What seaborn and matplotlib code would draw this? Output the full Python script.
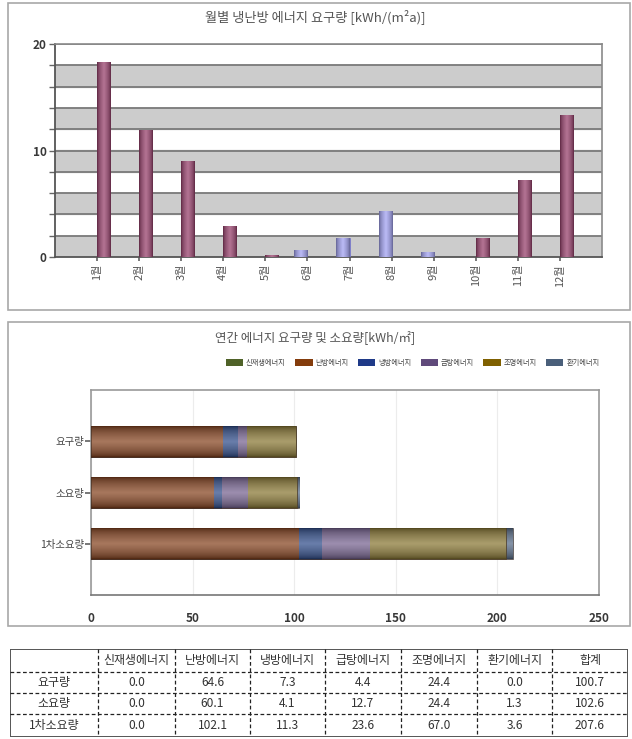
import numpy as np
import pandas as pd
import seaborn as sns
import matplotlib.pyplot as plt
from matplotlib.patches import Rectangle, Patch
from matplotlib.colors import to_rgb

# monthly heating / cooling demand [kWh/(m2a)]
months = ['1월', '2월', '3월', '4월', '5월', '6월', '7월', '8월', '9월', '10월', '11월', '12월']
heating = [18.3, 11.9, 9.0, 2.9, 0.15, 0.0, 0.0, 0.0, 0.0, 1.8, 7.2, 13.3]
cooling = [0.0, 0.0, 0.0, 0.0, 0.0, 0.65, 1.8, 4.35, 0.5, 0.0, 0.0, 0.0]

# annual demand / consumption table [kWh/m2]
rows = ['요구량', '소요량', '1차소요량']
energy_types = ['신재생에너지', '난방에너지', '냉방에너지', '급탕에너지', '조명에너지', '환기에너지']
renewable = [0.0, 0.0, 0.0]
heat_e = [64.6, 60.1, 102.1]
cool_e = [7.3, 4.1, 11.3]
hotwater = [4.4, 12.7, 23.6]
lighting = [24.4, 24.4, 67.0]
ventilation = [0.0, 1.3, 3.6]
totals = [100.7, 102.6, 207.6]

sns.set_theme(style='white')
plt.rcParams['font.family'] = ['Noto Sans CJK KR', 'DejaVu Sans']

W, H = 632, 739
fig = plt.figure(figsize=(W / 100, H / 100), dpi=100)


def box(x0, y0, x1, y1):
    # pixel box (top-left origin) -> figure coords
    return [x0 / W, 1 - y1 / H, (x1 - x0) / W, (y1 - y0) / H]


def shade(ax, patch, across_width, z):
    # glossy look: dark edges, lighter middle, clipped to the bar
    x, y = patch.get_x(), patch.get_y()
    w, h = patch.get_width(), patch.get_height()
    if abs(w) < 1e-9 or abs(h) < 1e-9:
        return
    base = np.array(to_rgb(patch.get_facecolor()[:3]))
    light = base + (1 - base) * 0.28
    dark = base * 0.6
    t = np.linspace(0, 1, 40)
    prof = (1 - np.abs(2 * t - 1)) ** 0.6
    cols = dark[None, :] + (light - dark)[None, :] * prof[:, None]
    img = cols[None, :, :] if across_width else cols[:, None, :]
    im = ax.imshow(img, extent=[x, x + w, y, y + h], aspect='auto',
                   interpolation='bilinear', zorder=z)
    im.set_clip_path(patch)


# panel frames
for y0, y1 in [(3, 310), (322, 626)]:
    fig.add_artist(Rectangle((8 / W, 1 - y1 / H), 622 / W, (y1 - y0) / H,
                             transform=fig.transFigure, fill=False,
                             edgecolor='#a8a8a8', lw=1.2))

# ---- top chart ----
ax1 = fig.add_axes(box(55, 44, 602, 257))
for lo in range(0, 20, 4):
    ax1.axhspan(lo, lo + 2, color='#cccccc', zorder=0)
for g in range(2, 21, 2):
    ax1.axhline(g, color='#7a7a7a', lw=1.3, zorder=1)

df1 = pd.DataFrame({
    'month': months * 2,
    'value': cooling + heating,
    'type': ['냉방'] * 12 + ['난방'] * 12,
})
sns.barplot(data=df1, x='month', y='value', hue='type', hue_order=['냉방', '난방'],
            palette=['#a0a0f2', '#973d6a'], width=0.62, dodge=True,
            legend=False, errorbar=None, ax=ax1, zorder=3, saturation=1,
            edgecolor='#5a2040', linewidth=0.5)
for c in ax1.containers:
    for p in c:
        if p.get_facecolor()[2] > 0.8:
            p.set_edgecolor('#6a6ac0')
        shade(ax1, p, True, 3.5)

ax1.set_ylim(0, 20)
ax1.set_xlim(-1.0, 12.0)
ax1.set_yticks([0, 10, 20])
ax1.set_yticks(range(0, 21, 2), minor=True)
ax1.tick_params(axis='y', which='both', left=True, length=4, width=1, color='#666666',
                labelsize=8.5, labelcolor='#383838', pad=2)
ax1.tick_params(axis='x', bottom=True, length=3, color='#666666', labelsize=8,
                labelcolor='#555555', pad=2)
plt.setp(ax1.get_xticklabels(), rotation=90)
plt.setp(ax1.get_yticklabels(), fontweight='semibold')
ax1.set_xlabel('')
ax1.set_ylabel('')
for s in ['left', 'bottom']:
    ax1.spines[s].set_color('#555555')
    ax1.spines[s].set_linewidth(1.3)
for s in ['right', 'top']:
    ax1.spines[s].set_color('#8a8a8a')
    ax1.spines[s].set_linewidth(1.2)

fig.text(315 / W, 1 - 17 / H, '월별 냉난방 에너지 요구량 [kWh/(m²a)]', ha='center',
         va='center', fontsize=9.5, color='#555555')

# ---- stacked annual chart ----
ax2 = fig.add_axes(box(91, 390, 599, 595))
bar_colors = ['#4f6228', '#86431f', '#2f4c8a', '#766290', '#897733', '#566a86']
legend_colors = ['#4f6228', '#843c0c', '#1f3a88', '#604a7b', '#7f6000', '#4a5f7a']
series = [renewable, heat_e, cool_e, hotwater, lighting, ventilation]
cum = np.cumsum(np.array(series), axis=0)
for i in range(len(series) - 1, -1, -1):
    sns.barplot(x=cum[i], y=rows, orient='h', color=bar_colors[i], width=0.6,
                errorbar=None, ax=ax2, zorder=3, edgecolor='#3a2a20',
                linewidth=0.4, saturation=1)
k = 0
for c in ax2.containers:
    for p in c:
        p.set_zorder(3 + 0.2 * k)
        shade(ax2, p, False, 3.1 + 0.2 * k)
        k += 1
ax2.set_xlim(0, 250)
ax2.set_ylim(3.0, -1.0)
ax2.set_xticks(range(0, 251, 50))
ax2.grid(axis='x', color='#ececec', lw=0.8, zorder=0)
ax2.tick_params(axis='y', left=True, length=4, color='#666666', labelsize=7.5,
                labelcolor='#444444', pad=1)
ax2.tick_params(axis='x', bottom=False, labelsize=8.5, labelcolor='#383838', pad=6)
plt.setp(ax2.get_xticklabels(), fontweight='semibold')
ax2.set_xlabel('')
ax2.set_ylabel('')
for s in ax2.spines.values():
    s.set_color('#9a9a9a')
    s.set_linewidth(1.2)
ax2.spines['bottom'].set_color('#777777')

fig.text(315 / W, 1 - 338 / H, '연간 에너지 요구량 및 소요량[kWh/㎡]', ha='center',
         va='center', fontsize=9, color='#555555')
handles = [Patch(facecolor=c, edgecolor='none') for c in legend_colors]
fig.legend(handles, energy_types, loc='center right', bbox_to_anchor=(606 / W, 1 - 363 / H),
           ncol=6, fontsize=5.2, frameon=False, handlelength=2.4, handleheight=1.0,
           handletextpad=0.4, columnspacing=1.3, labelcolor='#444444')

# ---- data table ----
ax3 = fig.add_axes(box(10, 649, 628, 737))
ax3.set_xlim(10, 628)
ax3.set_ylim(737, 649)
ax3.axis('off')
col_x = [10, 98, 175, 250, 325, 401, 477, 552, 628]
row_y = [649, 672, 693, 714, 737]
for x in col_x[1:-1]:
    ax3.plot([x, x], [row_y[0], row_y[-1]], color='#222222', lw=0.9, ls=(0, (3, 2)))
for y in row_y[1:-1]:
    ax3.plot([col_x[0], col_x[-1]], [y, y], color='#222222', lw=0.9, ls=(0, (3, 2)))
ax3.add_patch(Rectangle((col_x[0], row_y[0]), col_x[-1] - col_x[0], row_y[-1] - row_y[0],
                        fill=False, edgecolor='#555555', lw=1.4))

headers = [''] + energy_types + ['합계']
for j, h in enumerate(headers):
    ax3.text((col_x[j] + col_x[j + 1]) / 2, (row_y[0] + row_y[1]) / 2, h,
             ha='center', va='center', fontsize=8.6, color='#333333')
for i, r in enumerate(rows):
    cy = (row_y[i + 1] + row_y[i + 2]) / 2
    vals = [s[i] for s in series] + [totals[i]]
    ax3.text((col_x[0] + col_x[1]) / 2, cy, r, ha='center', va='center',
             fontsize=8.6, color='#333333')
    for j, v in enumerate(vals):
        ax3.text((col_x[j + 1] + col_x[j + 2]) / 2, cy, f'{v:.1f}', ha='center',
                 va='center', fontsize=8.6, color='#333333')

fig.savefig('out.png', dpi=100)
